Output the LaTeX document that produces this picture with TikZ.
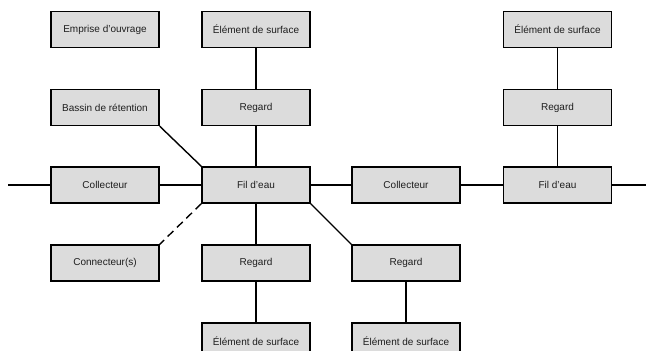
\documentclass[tikz,border=0pt]{standalone}
\usepackage{fontspec}
\setmainfont{Liberation Sans}
\usepackage{tikz}
\usetikzlibrary{positioning}
\definecolor{boxgray}{HTML}{DCDCDC}
\definecolor{textgray}{HTML}{1E1E1E}

\tikzset{
  objbox/.style={rectangle, draw=black, line width=1.4pt, fill=boxgray,
    minimum width=108pt, minimum height=36pt, inner sep=0pt,
    text=textgray, font=\fontsize{10}{12}\selectfont},
  link/.style={black, line width=1.4pt},
  optlink/.style={link, dash pattern=on 8pt off 5pt}
}

\begin{document}
\begin{tikzpicture}[x=1pt, y=-1pt]
  \useasboundingbox (0,0) rectangle (646,351);
  % first column
  \node[objbox] (emprise) at (105,29.5) {Emprise d'ouvrage};
  \node[objbox] (bassin) at (105,107.5) {Bassin de rétention};
  \node[objbox] (coll1) at (105,185) {Collecteur};
  \node[objbox] (conn) at (105,263) {Connecteur(s)};
  % main manhole column
  \node[objbox] (surf1) at (256,29.5) {Élément de surface};
  \node[objbox] (reg1) at (256,107.5) {Regard};
  \node[objbox] (fil1) at (256,185) {Fil d'eau};
  \node[objbox] (reg2) at (256,263) {Regard};
  \node[objbox] (surf2) at (256,341) {Élément de surface};
  % third column
  \node[objbox] (coll2) at (406,185) {Collecteur};
  \node[objbox] (reg3) at (406,263) {Regard};
  \node[objbox] (surf3) at (406,341) {Élément de surface};
  % second manhole
  \node[objbox] (surf4) at (557.5,29.5) {Élément de surface};
  \node[objbox] (reg4) at (557.5,107.5) {Regard};
  \node[objbox] (fil2) at (557.5,185) {Fil d'eau};
  % free ends
  \coordinate (inlet) at (8,185);
  \coordinate (outlet) at (646,185);

  \draw[link] (inlet) -- (coll1.west);
  \draw[link] (coll1) -- (fil1);
  \draw[link] (fil1) -- (coll2);
  \draw[link] (coll2) -- (fil2);
  \draw[link] (fil2.east) -- (outlet);
  \draw[link] (surf1) -- (reg1);
  \draw[link] (reg1) -- (fil1);
  \draw[link] (fil1) -- (reg2);
  \draw[link] (reg2) -- (surf2);
  \draw[link] (reg3) -- (surf3);
  \draw[link] (surf4) -- (reg4);
  \draw[link] (reg4) -- (fil2);
  \draw[link] (bassin.south east) -- (fil1.north west);
  \draw[link] (fil1.south east) -- (reg3.north west);
  \draw[optlink] (fil1.south west) -- (conn.north east);
\end{tikzpicture}
\end{document}
